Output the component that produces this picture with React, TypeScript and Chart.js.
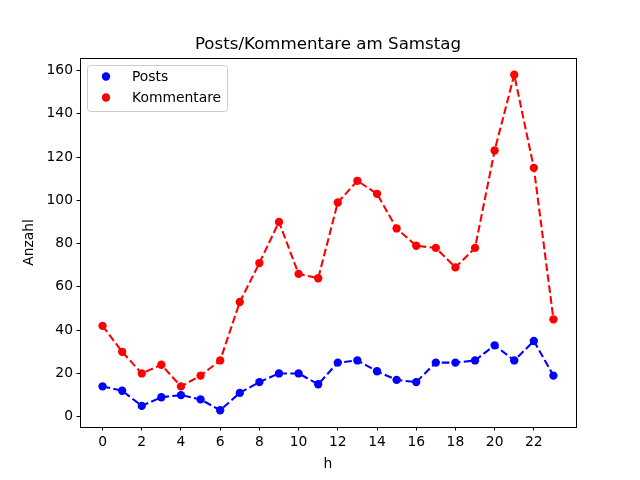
import { useEffect, useRef } from 'react'
import { Chart, registerables, type ChartConfiguration, type Plugin } from 'chart.js'

Chart.register(...registerables)

const hours = [0, 1, 2, 3, 4, 5, 6, 7, 8, 9, 10, 11, 12, 13, 14, 15, 16, 17, 18, 19, 20, 21, 22, 23]
const posts = [14, 12, 5, 9, 10, 8, 3, 11, 16, 20, 20, 15, 25, 26, 21, 17, 16, 25, 25, 26, 33, 26, 35, 19]
const kommentare = [42, 30, 20, 24, 14, 19, 26, 53, 71, 90, 66, 64, 99, 109, 103, 87, 79, 78, 69, 78, 123, 158, 115, 45]
const xTicks = [0, 2, 4, 6, 8, 10, 12, 14, 16, 18, 20, 22]
const yTicks = [0, 20, 40, 60, 80, 100, 120, 140, 160]

const TITLE = 'Posts/Kommentare am Samstag'
const X_LABEL = 'h'
const Y_LABEL = 'Anzahl'

const FONT = '"DejaVu Sans", sans-serif'
const PT = 100 / 72 // matplotlib points -> px at 100 dpi

const legendItems = [
  { label: 'Posts', color: '#0000ff' },
  { label: 'Kommentare', color: '#ff0000' },
]

// frame, title, axis labels and the in-axes legend (matplotlib look)
const decorPlugin: Plugin<'line'> = {
  id: 'mplDecor',
  afterDraw(chart) {
    const { ctx, chartArea: a } = chart
    ctx.save()
    ctx.strokeStyle = '#000'
    ctx.lineWidth = 1
    ctx.strokeRect(Math.round(a.left) + 0.5, Math.round(a.top) + 0.5, Math.round(a.right - a.left), Math.round(a.bottom - a.top))

    ctx.fillStyle = '#000'
    ctx.textAlign = 'center'
    ctx.textBaseline = 'alphabetic'
    ctx.font = `${12 * PT}px ${FONT}`
    ctx.fillText(TITLE, (a.left + a.right) / 2, a.top - 9)

    ctx.font = `${10 * PT}px ${FONT}`
    ctx.fillText(X_LABEL, (a.left + a.right) / 2, 467.5)

    ctx.save()
    ctx.translate(29, (a.top + a.bottom) / 2)
    ctx.rotate(-Math.PI / 2)
    ctx.textBaseline = 'middle'
    ctx.fillText(Y_LABEL, 0, 0)
    ctx.restore()

    // legend box
    const bx = a.left + 7
    const by = a.top + 7
    const bw = 140
    const bh = 46
    ctx.beginPath()
    ctx.roundRect(bx + 0.5, by + 0.5, bw, bh, 3)
    ctx.fillStyle = 'rgba(255,255,255,0.8)'
    ctx.fill()
    ctx.strokeStyle = '#cccccc'
    ctx.stroke()

    ctx.textAlign = 'left'
    ctx.textBaseline = 'middle'
    legendItems.forEach((item, i) => {
      const cy = by + 11.5 + i * 21
      ctx.beginPath()
      ctx.arc(bx + 19, cy, 3 * PT, 0, Math.PI * 2)
      ctx.fillStyle = item.color
      ctx.fill()
      ctx.fillStyle = '#000'
      ctx.fillText(item.label, bx + 45, cy + 0.5)
    })
    ctx.restore()
  },
}

export default function App() {
  const canvasRef = useRef<HTMLCanvasElement>(null)

  useEffect(() => {
    document.body.style.margin = '0'
    const canvas = canvasRef.current
    if (!canvas) return

    const tickFont = { family: FONT, size: 10 * PT }

    const config: ChartConfiguration<'line'> = {
      type: 'line',
      data: {
        datasets: [
          {
            label: 'Posts',
            data: hours.map((h, i) => ({ x: h, y: posts[i] })),
            borderColor: '#0000ff',
            backgroundColor: '#0000ff',
            pointBackgroundColor: '#0000ff',
            order: 2,
          },
          {
            label: 'Kommentare',
            data: hours.map((h, i) => ({ x: h, y: kommentare[i] })),
            borderColor: '#ff0000',
            backgroundColor: '#ff0000',
            pointBackgroundColor: '#ff0000',
            order: 1,
          },
        ],
      },
      options: {
        responsive: false,
        animation: false,
        devicePixelRatio: 1,
        layout: { padding: { top: 58, right: 64, left: 0, bottom: 0 } },
        elements: {
          line: { borderWidth: 1.5 * PT, borderDash: [3.7 * 1.5 * PT, 1.6 * 1.5 * PT], tension: 0, fill: false },
          point: { radius: 3 * PT, borderWidth: 0, hoverRadius: 3 * PT },
        },
        plugins: {
          legend: { display: false },
          title: { display: false },
          tooltip: { enabled: false },
        },
        scales: {
          x: {
            type: 'linear',
            min: -1.15,
            max: 24.15,
            afterBuildTicks: (scale) => {
              scale.ticks = xTicks.map((v) => ({ value: v }))
            },
            afterFit: (scale) => {
              scale.height = 53
            },
            ticks: { color: '#000', font: tickFont, padding: 3.5, maxRotation: 0, autoSkip: false },
            grid: { drawOnChartArea: false, drawTicks: true, tickLength: 3.5, tickColor: '#000', tickWidth: 1 },
            border: { display: false },
          },
          y: {
            type: 'linear',
            min: -4.75,
            max: 165.75,
            afterBuildTicks: (scale) => {
              scale.ticks = yTicks.map((v) => ({ value: v }))
            },
            afterFit: (scale) => {
              scale.width = 80
            },
            ticks: { color: '#000', font: tickFont, padding: 3.5, autoSkip: false },
            grid: { drawOnChartArea: false, drawTicks: true, tickLength: 3.5, tickColor: '#000', tickWidth: 1 },
            border: { display: false },
          },
        },
      },
      plugins: [decorPlugin],
    }

    const chart = new Chart(canvas, config)
    return () => {
      chart.destroy()
    }
  }, [])

  return (
    <div style={{ width: 640, height: 480, background: '#fff' }}>
      <canvas ref={canvasRef} width={640} height={480} />
    </div>
  )
}
